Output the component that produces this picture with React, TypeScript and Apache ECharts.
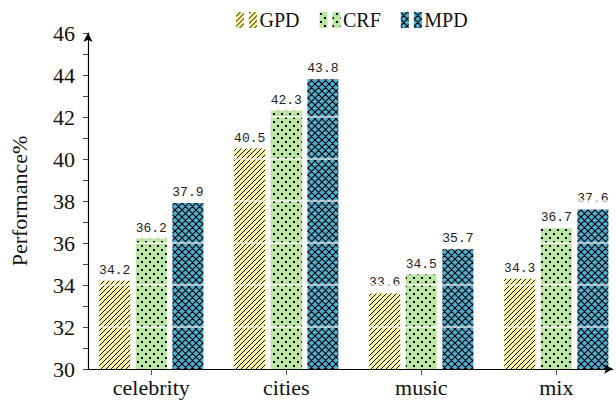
import React, { useEffect, useRef } from "react";
import * as echarts from "echarts";

const categories = ["celebrity", "cities", "music", "mix"];
const seriesNames = ["GPD", "CRF", "MPD"];
const gpdValues = [34.2, 40.5, 33.6, 34.3];
const crfValues = [36.2, 42.3, 34.5, 36.7];
const mpdValues = [37.9, 43.8, 35.7, 37.6];
const yTicks = [30, 32, 34, 36, 38, 40, 42, 44, 46];

const SERIF = "'Liberation Serif', 'DejaVu Serif', serif";
const MONO = "'Liberation Mono', 'DejaVu Sans Mono', monospace";

function makeHatch(bg: string): HTMLCanvasElement {
  const s = 5;
  const c = document.createElement("canvas");
  c.width = s;
  c.height = s;
  const g = c.getContext("2d")!;
  g.fillStyle = bg;
  g.fillRect(0, 0, s, s);
  g.strokeStyle = "#000";
  g.lineWidth = 1.0;
  g.beginPath();
  for (let k = -1; k <= 1; k++) {
    g.moveTo(k * s - 1, s + 1);
    g.lineTo(k * s + s + 1, -1);
  }
  g.stroke();
  return c;
}

function makeDots(bg: string): HTMLCanvasElement {
  const s = 8;
  const c = document.createElement("canvas");
  c.width = s;
  c.height = s;
  const g = c.getContext("2d")!;
  g.fillStyle = bg;
  g.fillRect(0, 0, s, s);
  g.fillStyle = "#000";
  g.fillRect(1, 1, 2, 2);
  g.fillRect(5, 5, 2, 2);
  return c;
}

function makeCross(bg: string): HTMLCanvasElement {
  const s = 7;
  const c = document.createElement("canvas");
  c.width = s;
  c.height = s;
  const g = c.getContext("2d")!;
  g.fillStyle = bg;
  g.fillRect(0, 0, s, s);
  g.strokeStyle = "#000";
  g.lineWidth = 1.1;
  g.beginPath();
  for (let k = -1; k <= 1; k++) {
    g.moveTo(k * s - 1, s + 1);
    g.lineTo(k * s + s + 1, -1);
    g.moveTo(k * s - 1, -1);
    g.lineTo(k * s + s + 1, s + 1);
  }
  g.stroke();
  return c;
}

export default function App() {
  const ref = useRef<HTMLDivElement>(null);
  useEffect(() => {
    if (!ref.current) return;
    const chart = echarts.init(ref.current, null, { renderer: "svg" });
    const fills = [
      { image: makeHatch("#fdf59b"), repeat: "repeat" },
      { image: makeDots("#b9e6a0"), repeat: "repeat" },
      { image: makeCross("#4eb0d3"), repeat: "repeat" },
    ];
    const valueSets = [gpdValues, crfValues, mpdValues];
    const idx = categories.map((_, i) => i);
    const series = seriesNames.map((name, s) => ({
      name,
      type: "bar",
      barWidth: 31,
      barGap: "18%",
      data: valueSets[s].map((v, i) => [i, v]),
      itemStyle: { color: fills[s] as any },
      label: {
        show: true,
        position: "top",
        distance: 4,
        fontFamily: MONO,
        fontSize: 13,
        color: "#222",
        formatter: (p: any) => p.value[1].toFixed(1),
      },
    }));
    chart.setOption({
      animation: false,
      legend: {
        top: 5,
        left: 231,
        itemWidth: 22,
        itemHeight: 16,
        itemGap: 20,
        icon: "path://M0,0H8V16H0ZM13,0H21V16H13Z",
        textStyle: { fontFamily: SERIF, fontSize: 20, color: "#111", padding: [0, 0, 0, -3] },
        data: seriesNames,
      },
      grid: { left: 86, right: 3, top: 33, bottom: 37 },
      xAxis: {
        type: "value",
        min: -0.469,
        max: 3.42,
        z: 6,
        axisLine: {
          show: true,
          onZero: false,
          symbol: ["none", "arrow"],
          symbolSize: [7, 9],
          lineStyle: { color: "#000", width: 1.2 },
        },
        axisTick: {
          show: true,
          length: 6,
          inside: false,
          customValues: idx,
          lineStyle: { color: "#555", width: 1 },
        },
        axisLabel: {
          show: true,
          customValues: idx,
          margin: 7,
          fontFamily: SERIF,
          fontSize: 22,
          color: "#111",
          formatter: (v: number) => categories[Math.round(v)] ?? "",
        },
        splitLine: { show: false },
      },
      yAxis: {
        type: "value",
        min: yTicks[0],
        max: yTicks[yTicks.length - 1],
        interval: 2,
        z: 5,
        name: "Performance%",
        nameLocation: "middle",
        nameGap: 58,
        nameTextStyle: { fontFamily: SERIF, fontSize: 22, color: "#111" },
        axisLine: {
          show: true,
          onZero: false,
          symbol: ["none", "arrow"],
          symbolSize: [7, 9],
          lineStyle: { color: "#000", width: 1.2 },
        },
        axisTick: { show: true, length: 5, lineStyle: { color: "#444" } },
        minorTick: { show: true, splitNumber: 2, length: 5, lineStyle: { color: "#444" } },
        axisLabel: {
          margin: 13,
          fontFamily: SERIF,
          fontSize: 22,
          color: "#111",
        },
        splitLine: {
          show: true,
          showMinLine: false,
          showMaxLine: false,
          lineStyle: { color: "rgba(255,255,255,0.85)", width: 1.5 },
        },
      },
      series,
    } as any);
    return () => chart.dispose();
  }, []);
  return <div ref={ref} style={{ width: 616, height: 406, position: "absolute", left: 0, top: 0 }} />;
}
